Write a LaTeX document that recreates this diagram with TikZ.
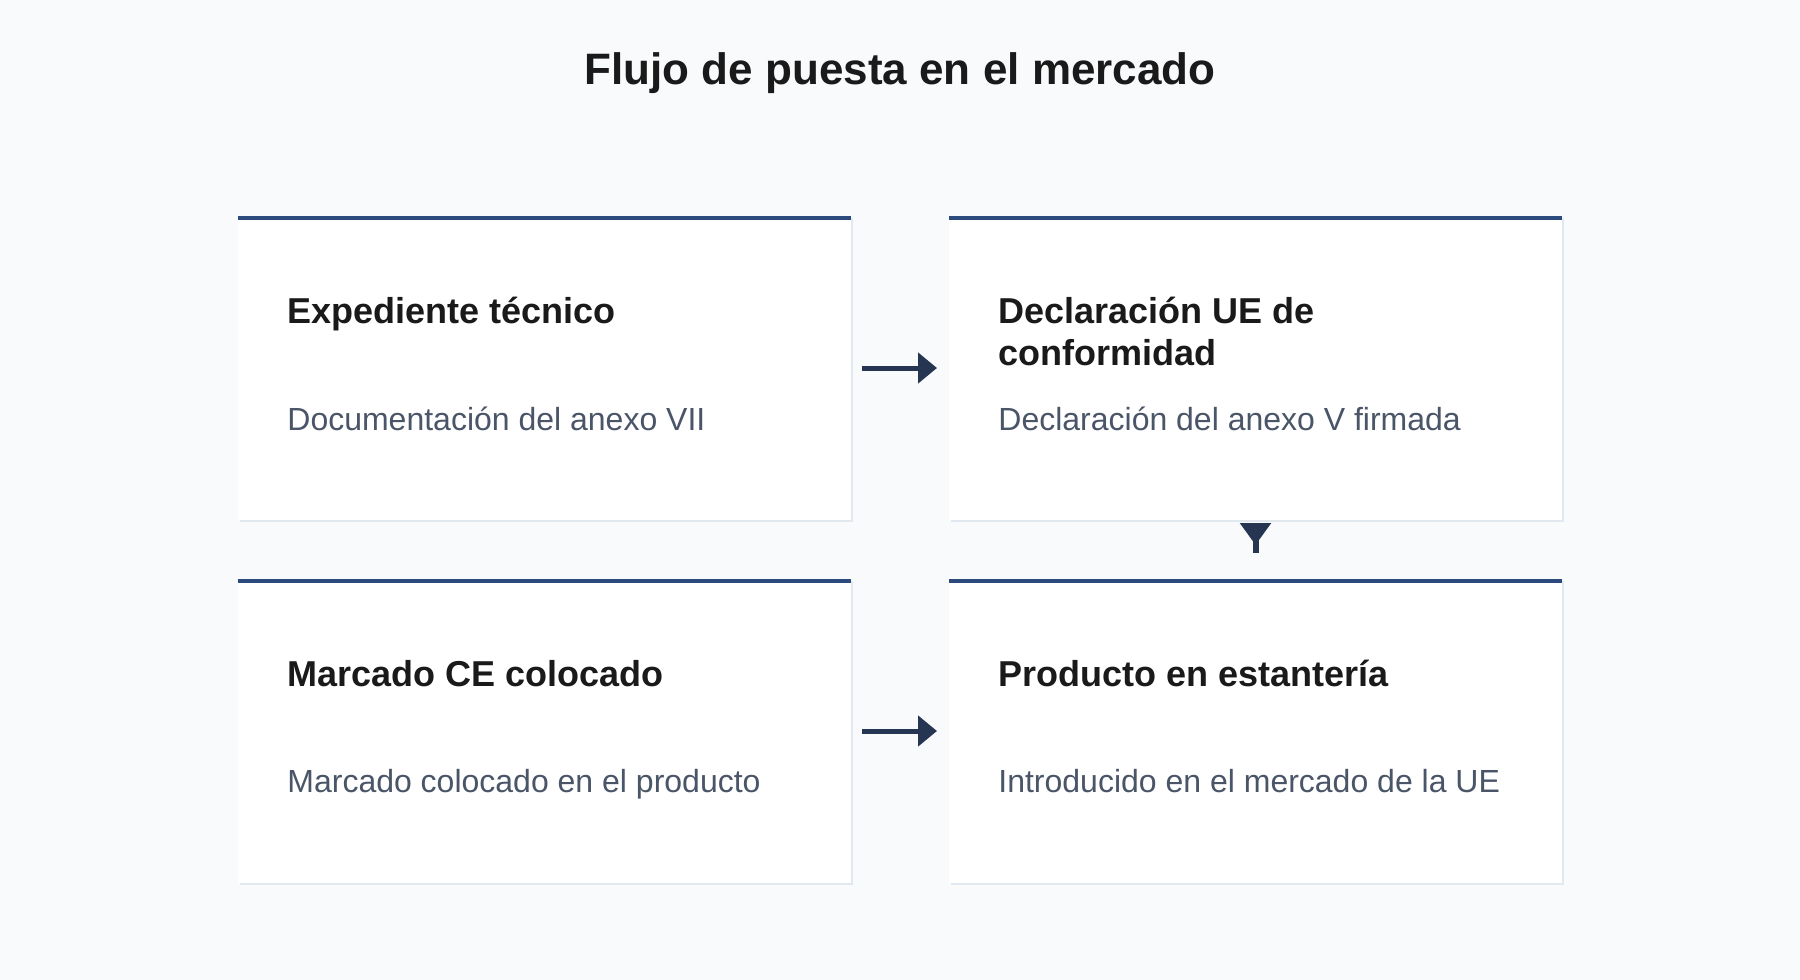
\documentclass[tikz,border=0pt]{standalone}
\usepackage{fontspec}
\setmainfont{Liberation Sans}
\usetikzlibrary{arrows.meta}
\definecolor{bgc}{HTML}{F8FAFC}
\definecolor{edgec}{HTML}{E2E8F0}
\definecolor{barc}{HTML}{2C4A7C}
\definecolor{arrc}{HTML}{263652}
\definecolor{headc}{HTML}{1A1A1A}
\definecolor{subc}{HTML}{4A5568}
\tikzset{
  card/.style={draw=none, fill=white, minimum width=306.5pt, minimum height=152pt, inner sep=0pt, outer sep=0pt},
  cardshadow/.style={fill=edgec},
  cardbar/.style={draw=barc, line width=2pt},
  headtxt/.style={anchor=base west, inner sep=0pt, text=headc, font=\bfseries\fontsize{18pt}{18pt}\selectfont},
  subtxt/.style={anchor=base west, inner sep=0pt, text=subc, font=\fontsize{16pt}{16pt}\selectfont},
  flow/.style={draw=arrc, line width=2.5pt, -{Triangle[length=9.5pt,width=15pt]}, arrc},
}
\begin{document}
\begin{tikzpicture}[x=0.5pt,y=-0.5pt]
\fill[bgc] (0,0) rectangle (1800,980);
\useasboundingbox (0,0) rectangle (1800,980);
\node[anchor=base, inner sep=0pt, text=headc, font=\bfseries\fontsize{22pt}{22pt}\selectfont] (title) at (900,84) {Flujo de puesta en el mercado};
% shadows
\foreach \cx/\cy in {544.5/368, 1255.5/368, 544.5/731, 1255.5/731}{
  \fill[cardshadow] (\cx-306.5+2,\cy-152+2) rectangle (\cx+306.5+2,\cy+152+2);
}
\node[card] (b1) at (544.5,368) {};
\node[card] (b2) at (1255.5,368) {};
\node[card] (b3) at (544.5,731) {};
\node[card] (b4) at (1255.5,731) {};
\foreach \b in {b1,b2,b3,b4}{
  \draw[cardbar] ([yshift=-1pt]\b.north west) -- ([yshift=-1pt]\b.north east);
}
\node[headtxt] (t1) at (287,323.5) {Expediente técnico};
\node[subtxt] (s1) at (287,430) {Documentación del anexo VII};
\node[headtxt] (t2a) at (998,323.5) {Declaración UE de};
\node[headtxt] (t2b) at (998,365.5) {conformidad};
\node[subtxt] (s2) at (998,430) {Declaración del anexo V firmada};
\node[headtxt] (t3) at (287,686.5) {Marcado CE colocado};
\node[subtxt] (s3) at (287,792) {Marcado colocado en el producto};
\node[headtxt] (t4) at (998,686.5) {Producto en estantería};
\node[subtxt] (s4) at (998,792) {Introducido en el mercado de la UE};
\draw[flow] ([xshift=5.5pt]b1.east) -- ([xshift=-6pt]b2.west);
\draw[flow] ([xshift=5.5pt]b3.east) -- ([xshift=-6pt]b4.west);
\draw[draw=arrc, line width=3pt, arrc, {Triangle[reversed,length=11pt,width=15pt]}-] ([yshift=-1.5pt]b2.south) -- ([yshift=13pt]b4.north);
\end{tikzpicture}
\end{document}
